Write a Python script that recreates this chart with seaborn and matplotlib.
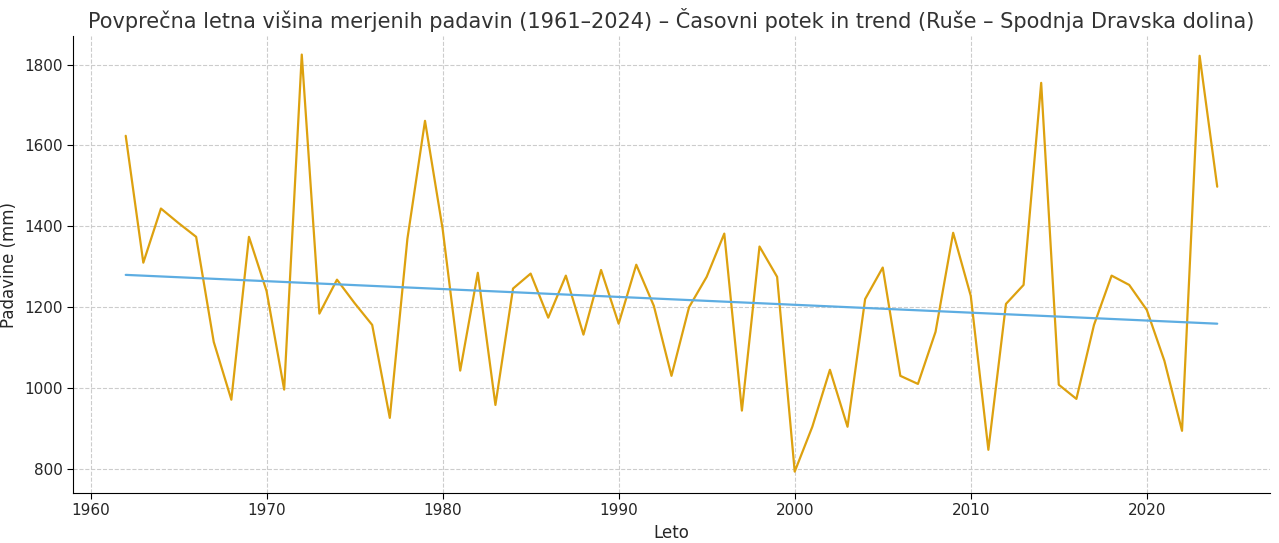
import numpy as np
import pandas as pd
import seaborn as sns
import matplotlib
matplotlib.use("Agg")
import matplotlib.pyplot as plt

years = list(range(1962, 2025))
precip = [1624, 1310, 1444, 1408, 1374, 1114, 971, 1374, 1240, 996,
          1825, 1184, 1268, 1210, 1156, 926, 1369, 1661, 1394, 1043,
          1285, 958, 1246, 1283, 1174, 1278, 1132, 1292, 1159, 1305,
          1203, 1030, 1200, 1275, 1382, 944, 1350, 1275, 793, 904,
          1045, 904, 1220, 1298, 1030, 1010, 1139, 1384, 1228, 847,
          1208, 1255, 1755, 1008, 973, 1156, 1278, 1255, 1193, 1067,
          894, 1822, 1498]

df = pd.DataFrame({"Leto": years, "Padavine": precip})
coef = np.polyfit(df["Leto"], df["Padavine"], 1)
df["Trend"] = np.polyval(coef, df["Leto"])

sns.set_style("whitegrid")
plt.rcParams['font.family'] = ['DejaVu Sans']
fig, ax = plt.subplots(figsize=(12.79, 5.43), dpi=100)
sns.lineplot(data=df, x="Leto", y="Padavine", color="#DDA10F", lw=1.6, ax=ax)
sns.lineplot(data=df, x="Leto", y="Trend", color="#5DADE2", lw=1.6, ax=ax)
ax.grid(True, linestyle="--", color="#cccccc", lw=0.8)
for s in ["top", "right"]:
    ax.spines[s].set_visible(False)
for s in ["left", "bottom"]:
    ax.spines[s].set_color("black")
ax.tick_params(axis="both", length=4, color="black", labelsize=11, bottom=True, left=True)
ax.set_xlim(1959, 2027)
ax.set_ylim(740, 1870)
ax.set_xticks(range(1960, 2030, 10))
ax.set_yticks(range(800, 1900, 200))
ax.set_xlabel("Leto", fontsize=12)
ax.set_ylabel("Padavine (mm)", fontsize=12)
ax.set_title("Povprečna letna višina merjenih padavin (1961–2024) – Časovni potek in trend (Ruše – Spodnja Dravska dolina)", fontsize=15, color="#333333")
fig.subplots_adjust(left=0.057, right=0.993, top=0.933, bottom=0.092)
fig.savefig("out.png", dpi=100)
